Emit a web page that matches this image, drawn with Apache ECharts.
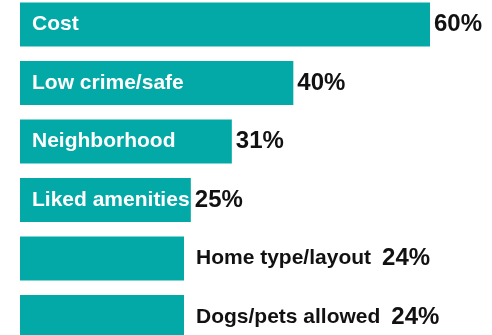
<!DOCTYPE html>
<html>
<head>
<meta charset="utf-8">
<script src="https://cdn.jsdelivr.net/npm/echarts@6/dist/echarts.min.js"></script>
<style>
html,body{margin:0;padding:0;background:#fff;}
#c{width:492px;height:335px;}
</style>
</head>
<body>
<div id="c"></div>
<script>
var categories = ['Cost', 'Low crime/safe', 'Neighborhood', 'Liked amenities', 'Home type/layout', 'Dogs/pets allowed'];
var values = [60, 40, 31, 25, 24, 24];
var insideLabel = [true, true, true, true, false, false];

var TEAL = '#03A9A6';
var FONT = '"Liberation Sans", Arial, Helvetica, sans-serif';

var chart = echarts.init(document.getElementById('c'), null, {renderer: 'canvas'});

var mainData = values.map(function (v, i) {
  if (insideLabel[i]) {
    return {
      value: v,
      label: {
        show: true, position: 'right', distance: 4,
        formatter: '{v|' + v + '%}'
      }
    };
  }
  return {
    value: v,
    label: {
      show: true, position: 'right', distance: 12,
      formatter: '{n|' + categories[i] + '}{r|' + v + '%}'
    }
  };
});

var nameData = values.map(function (v, i) {
  return {
    value: v,
    label: {
      show: insideLabel[i], position: 'insideLeft', distance: 12,
      formatter: categories[i]
    }
  };
});

chart.setOption({
  animation: false,
  backgroundColor: '#ffffff',
  grid: {left: 20, width: 410, top: 24.5, height: 292.5, containLabel: false},
  xAxis: {type: 'value', min: 0, max: 60, show: false},
  yAxis: {type: 'category', data: categories, inverse: true, show: false, boundaryGap: false},
  series: [
    {
      type: 'bar',
      data: mainData,
      barWidth: 44,
      itemStyle: {color: TEAL},
      label: {
        show: true,
        fontFamily: FONT,
        color: '#111',
        rich: {
          v: {fontFamily: FONT, fontSize: 24, fontWeight: 'bold', color: '#111'},
          n: {fontFamily: FONT, fontSize: 21, fontWeight: 'bold', color: '#111', padding: [0, 11, 0, 0]},
          r: {fontFamily: FONT, fontSize: 24, fontWeight: 'bold', color: '#111'}
        }
      },
      z: 2
    },
    {
      type: 'bar',
      data: nameData,
      barWidth: 44,
      barGap: '-100%',
      itemStyle: {color: 'rgba(0,0,0,0)'},
      label: {
        fontFamily: FONT,
        fontSize: 21,
        fontWeight: 'bold',
        color: '#ffffff'
      },
      z: 3
    }
  ]
});
</script>
</body>
</html>
